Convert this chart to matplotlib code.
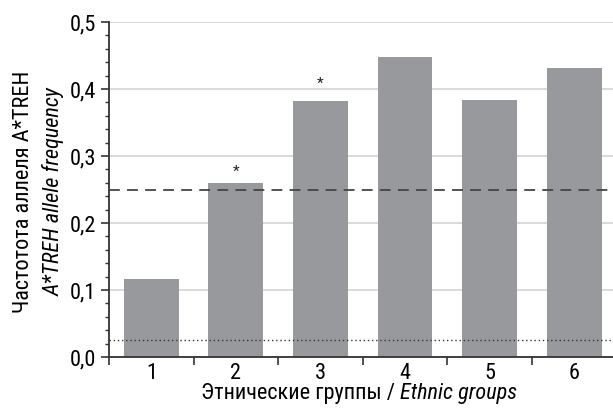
import matplotlib
matplotlib.use("Agg")
import matplotlib.pyplot as plt
from matplotlib.ticker import MultipleLocator, FuncFormatter
from matplotlib import font_manager

groups = ["1", "2", "3", "4", "5", "6"]
freqs = [0.117, 0.260, 0.382, 0.448, 0.384, 0.431]
star_pos = [None, 0.284, 0.416, None, None, None]
ref_dashed = 0.25
ref_dotted = 0.025

cand = ["Roboto Condensed", "Liberation Sans Narrow", "DejaVu Sans"]
names = {f.name for f in font_manager.fontManager.ttflist}
fam = [c for c in cand if c in names]
plt.rcParams["font.family"] = fam

fig = plt.figure(figsize=(6.13, 4.13), dpi=100)
ax = fig.add_axes([0.178, 0.1356, 0.822, 0.811])

x = list(range(1, len(groups) + 1))
ax.bar(x, freqs, width=0.65, color="#98999d", zorder=2)
for xi, sp in zip(x, star_pos):
    if sp is not None:
        ax.text(xi, sp - 0.008, "*", ha="center", va="center", fontsize=11, color="#222222")

ax.axhline(ref_dashed, color="#444444", lw=1.3, ls=(0, (6, 4)), zorder=3)
ax.axhline(ref_dotted, color="#333333", lw=1.0, ls=(0, (1, 2)), zorder=3)

ax.set_ylim(0, 0.5)
ax.set_xlim(0.5, 6.46)
ax.yaxis.set_major_locator(MultipleLocator(0.1))
ax.yaxis.set_minor_locator(MultipleLocator(0.02))
ax.yaxis.set_major_formatter(FuncFormatter(lambda v, p: f"{v:.1f}".replace(".", ",")))
ax.grid(axis="y", which="major", color="#d4d4d4", lw=1.2, zorder=0)

ax.set_xticks([i + 0.5 for i in range(0, 6)])
ax.set_xticklabels([])
ax.set_xticks(x, minor=True)
ax.set_xticklabels(groups, minor=True, fontsize=16)
ax.tick_params(axis="x", which="minor", length=0, pad=4)
ax.tick_params(axis="x", which="major", length=6, width=1.2, color="#333333")
ax.tick_params(axis="y", which="major", length=6, width=1.2, labelsize=16, color="#333333")
ax.tick_params(axis="y", which="minor", length=3, width=1.0, color="#333333")

for s in ["top", "right"]:
    ax.spines[s].set_visible(False)
for s in ["left", "bottom"]:
    ax.spines[s].set_color("#333333")
    ax.spines[s].set_linewidth(1.3)

# x label made of two parts (regular + italic), centred as a whole
t1 = fig.text(0, 0.034, "Этнические группы / ", ha="left", va="baseline", fontsize=16)
t2 = fig.text(0, 0.034, "Ethnic groups", ha="left", va="baseline", fontsize=16, style="italic")
fig.canvas.draw()
r = fig.canvas.get_renderer()
w1 = t1.get_window_extent(r).width / fig.bbox.width
w2 = t2.get_window_extent(r).width / fig.bbox.width
cx = 359 / 613
x0 = cx - (w1 + w2) / 2
t1.set_x(x0)
t2.set_x(x0 + w1)

fig.text(0.039, 0.535, "Частотота аллеля A*TREH", rotation=90, ha="center", va="center", fontsize=16)
fig.text(0.087, 0.535, "A*TREH allele frequency", rotation=90, ha="center", va="center", fontsize=16, style="italic")

fig.savefig("out.png", dpi=100)
